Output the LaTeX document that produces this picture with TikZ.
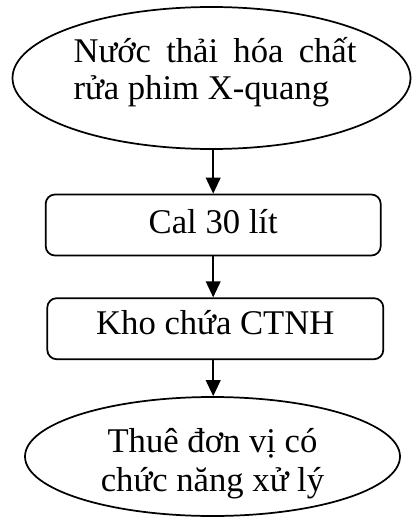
\documentclass[tikz,border=0pt]{standalone}
\usepackage{fontspec}
\setmainfont{Liberation Serif}
\usetikzlibrary{arrows.meta,shapes.geometric}
\begin{document}
\begin{tikzpicture}[x=0.75pt,y=-0.75pt,
  outline/.style={draw=black, line width=1.3pt},
  oval/.style={outline, ellipse, inner sep=0pt},
  stepbox/.style={outline, rounded corners=7pt, inner sep=0pt,
    minimum height=45.75pt},
  label/.style={font=\fontsize{26pt}{27.75pt}\selectfont, inner sep=0pt},
  flow/.style={line width=1.3pt, -{Triangle[length=12pt,width=11pt]}}]
\useasboundingbox (0,0) rectangle (411,517);

% source of the waste stream
\node[oval, minimum width=298.5pt, minimum height=106.5pt] (src) at (211.5,78) {};
\node[label, align=left, anchor=base] (srctxt) at (215,99.5)
  {\makebox[212.25pt][s]{Nước thải hóa chất}\\rửa phim X-quang};

% storage steps
\node[stepbox, minimum width=251.25pt] (cal) at (213.2,225) {};
\node[label, anchor=base] (caltxt) at (213.2,233) {Cal 30 lít};
\node[stepbox, minimum width=252pt] (kho) at (215.3,328.7) {};
\node[label, anchor=base] (khotxt) at (215.3,334) {Kho chứa CTNH};

% final disposal
\node[oval, minimum width=281.25pt, minimum height=89.25pt] (dst) at (212.5,456.5) {};
\node[label, align=center, anchor=base, font=\fontsize{26pt}{28.9pt}\selectfont] (dsttxt) at (212.5,491.5)
  {Thuê đơn vị có\\chức năng xử lý};

% connectors
\draw[flow] (cal.north |- src.south) -- (cal.north);
\draw[flow] (cal.south) -- (cal.south |- kho.north);
\draw[flow] (kho.south -| cal.south) -- (dst.north -| cal.south);
\end{tikzpicture}
\end{document}
